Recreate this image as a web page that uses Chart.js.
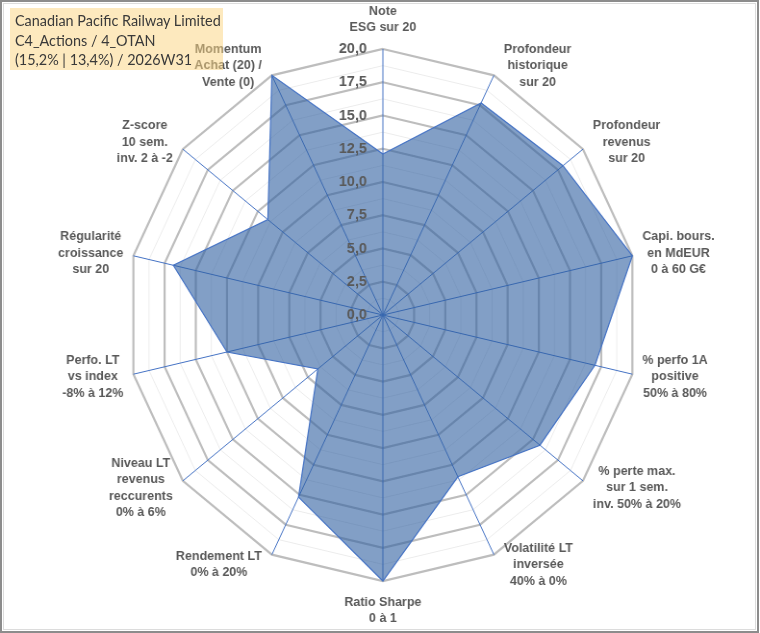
<!DOCTYPE html>
<html lang="fr">
<head>
<meta charset="UTF-8">
<script src="https://cdn.jsdelivr.net/npm/chart.js"></script>
<style>
  html, body { margin: 0; padding: 0; background: #ffffff; width: 760px; height: 633px; overflow: hidden; }
  #wrap {
    position: absolute; left: 0; top: 0;
    width: 790px; height: 633px;
    transform: scaleX(0.962); transform-origin: 0 0;
  }
  #title {
    position: absolute; left: 10px; top: 8px; width: 208px; height: 59px;
    padding: 3px 0 0 5px;
    background: rgba(251, 211, 125, 0.5);
    font-family: Lato, "Open Sans", sans-serif; font-size: 14.4px; line-height: 19.5px;
    color: #3a3a3a; white-space: nowrap;
  }
  #frame {
    position: absolute; left: 0; top: 0; width: 759px; height: 633px;
    box-sizing: border-box; border: 2px solid #8c8c8c; pointer-events: none;
  }
  #inner {
    position: absolute; left: 3px; top: 3px; width: 753px; height: 627px;
    box-sizing: border-box; border: 1px solid #dcdcdc; pointer-events: none;
  }
</style>
</head>
<body>
<div id="wrap"><canvas id="radar"></canvas></div>
<div id="title"></div>
<div id="frame"></div>
<div id="inner"></div>
<script>
// Chart data
const titleLines = ['Canadian Pacific Railway Limited', 'C4_Actions / 4_OTAN', '(15,2% | 13,4%) / 2026W31'];

const axisLabels = [
  ['Note', 'ESG sur 20'],
  ['Profondeur', 'historique', 'sur 20'],
  ['Profondeur', 'revenus', 'sur 20'],
  ['Capi. bours.', 'en MdEUR', '0 à 60 G€'],
  ['% perfo 1A', 'positive', '50% à 80%'],
  ['% perte max.', 'sur 1 sem.', 'inv. 50% à 20%'],
  ['Volatilité LT', 'inversée', '40% à 0%'],
  ['Ratio Sharpe', '0 à 1'],
  ['Rendement LT', '0% à 20%'],
  ['Niveau LT', 'revenus', 'reccurents', '0% à 6%'],
  ['Perfo. LT', 'vs index', '-8% à 12%'],
  ['Régularité', 'croissance', 'sur 20'],
  ['Z-score', '10 sem.', 'inv. 2 à -2'],
  ['Momentum', 'Achat (20) /', 'Vente (0)']
];

const scores = [12.1, 17.7, 18.0, 20, 17.0, 15.7, 13.5, 20, 15.2, 6.5, 12.5, 16.8, 11.5, 20];

const tickValues = [0, 2.5, 5, 7.5, 10, 12.5, 15, 17.5, 20];

document.getElementById('title').innerHTML = titleLines.join('<br>');

const labelColor = '#595959';
const labelFont = 'bold 13px "Liberation Sans", Arial, sans-serif';
const tickFont = 'bold 15px "Liberation Sans", Arial, sans-serif';

// tick labels left of the vertical axis, drawn over the area
const tickLabelPlugin = {
  id: 'tickLabels',
  afterDatasetsDraw(chart) {
    const scale = chart.scales.r;
    const ctx = chart.ctx;
    ctx.save();
    ctx.font = tickFont;
    ctx.fillStyle = labelColor;
    ctx.textAlign = 'right';
    ctx.textBaseline = 'middle';
    tickValues.forEach(v => {
      const y = scale.yCenter - scale.getDistanceFromCenterForValue(v);
      ctx.fillText(v.toFixed(1).replace('.', ','), scale.xCenter - 16.6, y);
    });
    ctx.restore();
  }
};

// axis names with centred lines, placed next to each outer corner
const axisLabelPlugin = {
  id: 'axisLabels',
  afterDraw(chart) {
    const scale = chart.scales.r;
    const ctx = chart.ctx;
    const n = axisLabels.length;
    const lineH = 16.5;
    ctx.save();
    ctx.font = labelFont;
    ctx.fillStyle = labelColor;
    ctx.textAlign = 'center';
    ctx.textBaseline = 'middle';
    axisLabels.forEach((lines, i) => {
      const p = scale.getPointPosition(i, scale.drawingArea);
      const a = i * 2 * Math.PI / n;
      const s = Math.sin(a), c = Math.cos(a);
      const h = lines.length * lineH;
      const w = Math.max(...lines.map(t => ctx.measureText(t).width));
      let cx, cy;
      if (Math.abs(s) < 0.01) {
        cx = p.x;
        cy = c > 0 ? p.y - 13 - h / 2 : p.y + 13 + h / 2;
      } else {
        const side = s > 0 ? 1 : -1;
        cx = p.x + side * (10.4 + w / 2);
        cy = p.y - 11 * c;
      }
      lines.forEach((t, k) => {
        ctx.fillText(t, cx, cy - h / 2 + lineH * (k + 0.5));
      });
    });
    ctx.restore();
  }
};

new Chart(document.getElementById('radar'), {
  type: 'radar',
  data: {
    labels: axisLabels,
    datasets: [{
      label: 'Score',
      data: scores,
      backgroundColor: 'rgba(47, 95, 160, 0.6)',
      borderColor: '#4472C4',
      borderWidth: 1.2,
      pointRadius: 0,
      fill: true
    }]
  },
  options: {
    responsive: true,
    maintainAspectRatio: false,
    animation: false,
    layout: { padding: { left: 132, right: 126, top: 49, bottom: 52 } },
    scales: {
      r: {
        min: 0,
        max: 20,
        ticks: { display: false, stepSize: 1.25 },
        pointLabels: { display: false },
        angleLines: { color: '#4472C4', lineWidth: 1 },
        grid: {
          circular: false,
          color: ctx => (ctx.tick.value % 2.5 === 0 ? '#bdbdbd' : '#ececec'),
          lineWidth: ctx => (ctx.tick.value % 2.5 === 0 ? 2.2 : 1)
        }
      }
    },
    plugins: {
      legend: { display: false },
      tooltip: { enabled: false }
    }
  },
  plugins: [tickLabelPlugin, axisLabelPlugin]
});
</script>
</body>
</html>
